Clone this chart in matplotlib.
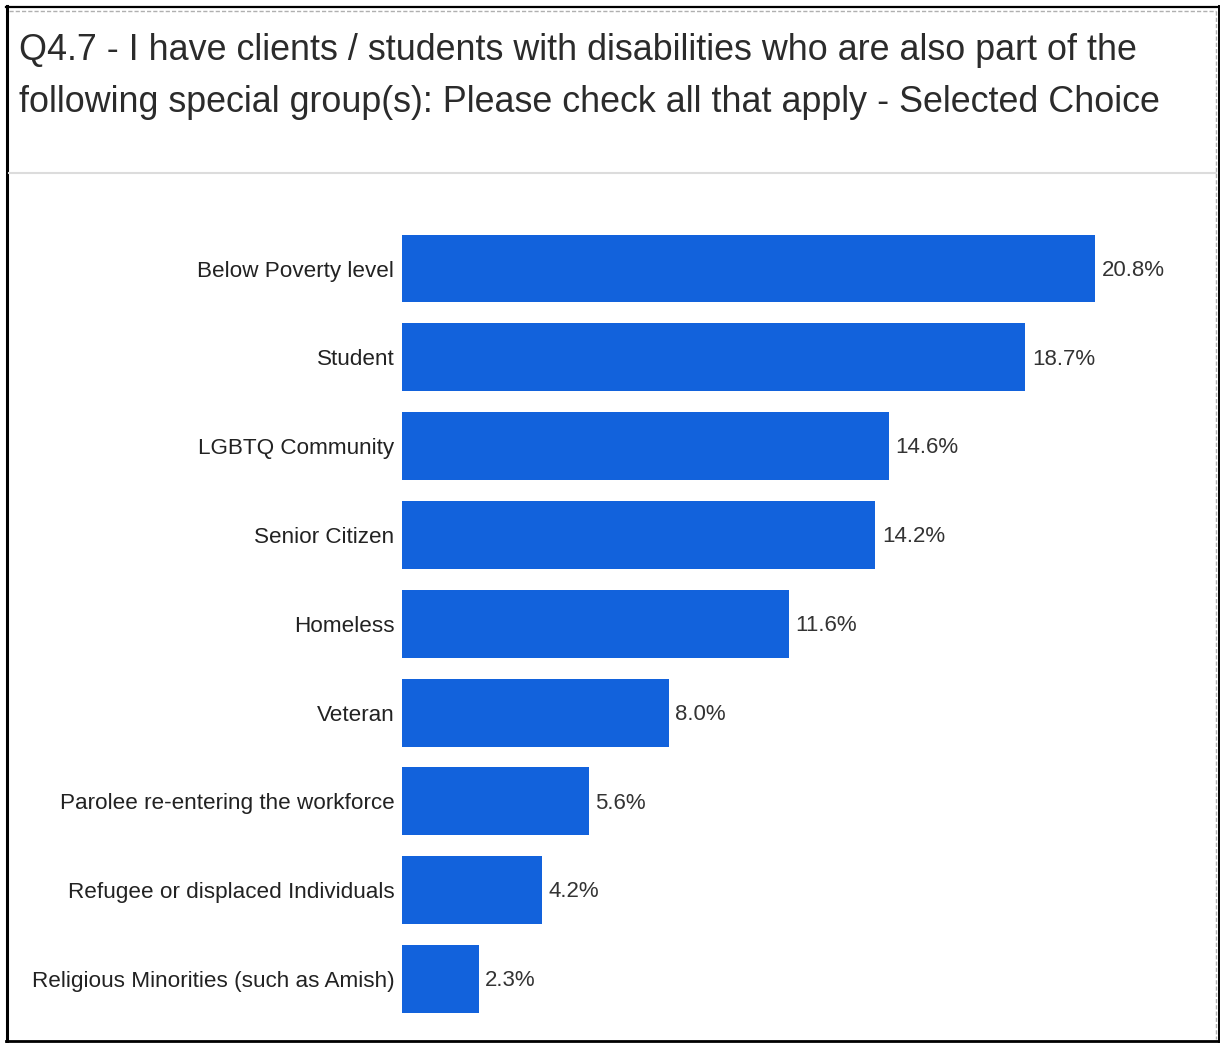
import matplotlib
matplotlib.use("Agg")
import matplotlib.pyplot as plt
from matplotlib.lines import Line2D

plt.rcParams['font.family'] = ['Liberation Sans', 'DejaVu Sans']

categories = ["Below Poverty level", "Student", "LGBTQ Community", "Senior Citizen",
              "Homeless", "Veteran", "Parolee re-entering the workforce",
              "Refugee or displaced Individuals", "Religious Minorities (such as Amish)"]
values = [20.8, 18.7, 14.6, 14.2, 11.6, 8.0, 5.6, 4.2, 2.3]

title_lines = ["Q4.7 - I have clients / students with disabilities who are also part of the",
               "following special group(s): Please check all that apply - Selected Choice"]

W, H = 1220, 1043
fig = plt.figure(figsize=(W / 100, H / 100), dpi=100)

def fx(px):
    return px / W

def fy(py):
    return 1 - py / H

def hline(x0, x1, y, **kw):
    fig.lines.append(Line2D([fx(x0), fx(x1)], [fy(y), fy(y)], transform=fig.transFigure, **kw))

def vline(x, y0, y1, **kw):
    fig.lines.append(Line2D([fx(x), fx(x)], [fy(y0), fy(y1)], transform=fig.transFigure, **kw))

# outer frame
vline(6.5, 6, 1042, color="black", linewidth=2.2)
hline(6, 1220, 1041, color="black", linewidth=2.0)
hline(6, 1220, 7, color="black", linewidth=1.6)
vline(1219, 6, 1042, color="black", linewidth=1.4)
# dashed inner edge along top and right
dash = dict(color="#b0b0b0", linewidth=1.0, linestyle=(0, (3, 1.5)))
hline(9, 1216, 10.5, **dash)
vline(1216, 10.5, 1039, **dash)
# title divider
hline(9, 1216, 173, color="#dcdcdc", linewidth=1.5)

for i, line in enumerate(title_lines):
    fig.text(fx(19), fy(51 + 52 * i), line, fontsize=25.8, color="#2b2b2b",
             ha="left", va="center")

# plot area
ax_left, ax_right = 402, 1202
ax_top, ax_bottom = 224.1, 1023.4
ax = fig.add_axes([fx(ax_left), fy(ax_bottom), fx(ax_right) - fx(ax_left),
                   fy(ax_top) - fy(ax_bottom)])

pos = list(range(len(categories)))
ax.barh(pos, values, height=0.765, color="#1262dc")
ax.set_xlim(0, 24)
ax.set_ylim(len(categories) - 0.5, -0.5)

for p, v in zip(pos, values):
    ax.text(v + 0.2, p + 0.02, f"{v:.1f}%", va="center", ha="left",
            fontsize=16, color="#333333")

ax.set_yticks(pos)
ax.set_yticklabels(categories, fontsize=16.2, color="#222222")
ax.tick_params(axis="y", length=0, pad=5.5)
ax.set_xticks([])
for s in ax.spines.values():
    s.set_visible(False)

fig.savefig("out.png", dpi=100)
